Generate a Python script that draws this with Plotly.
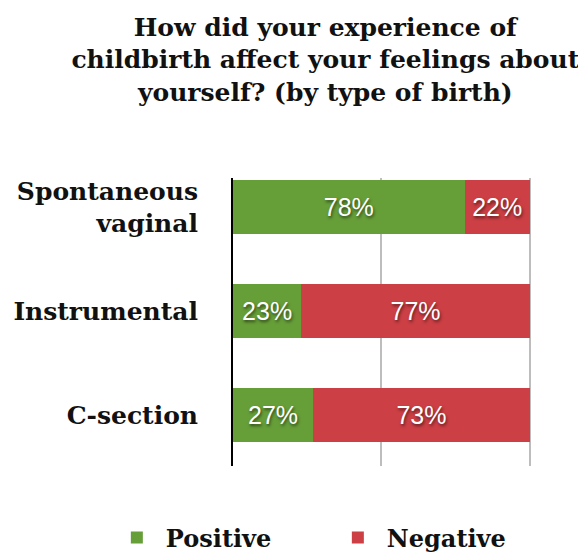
import plotly.graph_objects as go

categories = ["Spontaneous<br>vaginal", "Instrumental", "C-section"]
positive = [78, 23, 27]
negative = [22, 77, 73]
series_names = ["Positive", "Negative"]
colors = ["#669e38", "#cc3f44"]

label_font = dict(family="Liberation Sans, Arial, sans-serif", size=25, color="white",
                  shadow="1px 2px 3px rgba(0,0,0,0.55)")

fig = go.Figure()
for name, vals, col in zip(series_names, [positive, negative], colors):
    fig.add_trace(go.Bar(
        y=categories, x=vals, name=name, orientation="h",
        marker=dict(color=col, line=dict(width=0)),
        text=[f"{v}%" for v in vals], textposition="inside",
        insidetextanchor="middle", textfont=label_font,
        constraintext="none", hoverinfo="skip",
    ))

serif = "DejaVu Serif, serif"
fig.update_layout(
    width=578, height=544,
    barmode="stack", bargap=0.48,
    plot_bgcolor="white", paper_bgcolor="white",
    margin=dict(l=225, r=55, t=170, b=86, autoexpand=False),
    title=dict(
        text="How did your experience of<br>childbirth affect your feelings about<br>yourself? (by type of birth)",
        x=0.549, xanchor="center", y=0.949, yanchor="top",
        font=dict(family=serif, size=25, color="#111", weight="bold"),
    ),
    xaxis=dict(range=[0, 100.4], tickvals=[0, 50, 100], showticklabels=False,
               showgrid=True, gridcolor="#bdbdbd", gridwidth=2, zeroline=False,
               showline=False, fixedrange=True, automargin=False),
    yaxis=dict(categoryorder="array", categoryarray=categories,
               range=[2.49, -0.28], showgrid=False, zeroline=False,
               showline=True, linecolor="black", linewidth=2,
               ticks="", ticklabelstandoff=28, automargin=False,
               tickfont=dict(family=serif, size=25, color="#111", weight="bold")),
    legend=dict(orientation="h", xref="paper", yref="paper",
                x=-0.42, xanchor="left", y=-0.25, yanchor="middle",
                font=dict(family=serif, size=24, color="#111", weight="bold"),
                traceorder="normal", itemwidth=48, entrywidth=158),
    showlegend=True,
)
fig.write_html("out.html")
